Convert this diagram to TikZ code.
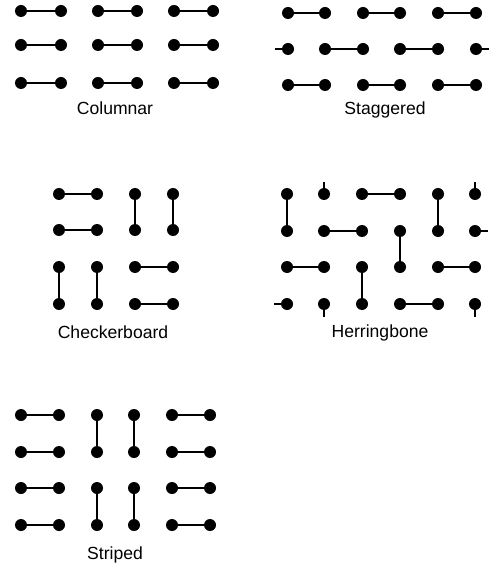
\documentclass[tikz,border=0pt]{standalone}
\usepackage{fontspec}
\setmainfont{Liberation Sans}
\usetikzlibrary{positioning}

\begin{document}
\begin{tikzpicture}[x=0.03cm,y=-0.03cm,
  pin/.style={circle,fill,inner sep=0pt,minimum size=0.36cm},
  bar/.style={line width=1.9pt},
  lbl/.style={font=\fontsize{15}{17}\selectfont}]
  \useasboundingbox (0,0) rectangle (490,571);
  % columnar
  \foreach \x [count=\c] in {21,61,98,137,174,213}
    \foreach \y [count=\r] in {11,45,83}
      \node[pin] (co-\r-\c) at (\x,\y) {};
  \foreach \r in {1,2,3}
    \foreach \a/\b in {1/2,3/4,5/6}
      \draw[bar] (co-\r-\a) -- (co-\r-\b);
  \node[lbl] (co-lbl) at (115,108) {Columnar};
  % staggered
  \foreach \x [count=\c] in {288,325,363,400,438,476}
    \foreach \y [count=\r] in {13,49,85}
      \node[pin] (st-\r-\c) at (\x,\y) {};
  \foreach \r in {1,3}
    \foreach \a/\b in {1/2,3/4,5/6}
      \draw[bar] (st-\r-\a) -- (st-\r-\b);
  \foreach \a/\b in {2/3,4/5}
    \draw[bar] (st-2-\a) -- (st-2-\b);
  \draw[bar] (st-2-1.center) -- ++(-13,0);
  \draw[bar] (st-2-6.center) -- ++(13,0);
  \node[lbl] (st-lbl) at (385,110) {Staggered};
  % checkerboard
  \foreach \x [count=\c] in {59,97,135,173}
    \foreach \y [count=\r] in {194,230,267,304}
      \node[pin] (ch-\r-\c) at (\x,\y) {};
  \draw[bar] (ch-1-1) -- (ch-1-2);
  \draw[bar] (ch-2-1) -- (ch-2-2);
  \draw[bar] (ch-1-3) -- (ch-2-3);
  \draw[bar] (ch-1-4) -- (ch-2-4);
  \draw[bar] (ch-3-1) -- (ch-4-1);
  \draw[bar] (ch-3-2) -- (ch-4-2);
  \draw[bar] (ch-3-3) -- (ch-3-4);
  \draw[bar] (ch-4-3) -- (ch-4-4);
  \node[lbl] (ch-lbl) at (113,332) {Checkerboard};
  % herringbone
  \foreach \x [count=\c] in {287,324,362,400,438,475}
    \foreach \y [count=\r] in {194,231,267,304}
      \node[pin] (hb-\r-\c) at (\x,\y) {};
  \foreach \p/\q in {1-3/1-4,2-2/2-3,3-1/3-2,3-5/3-6,4-4/4-5,
                     1-1/2-1,1-5/2-5,2-4/3-4,3-3/4-3}
    \draw[bar] (hb-\p) -- (hb-\q);
  \draw[bar] (hb-1-2.center) -- ++(0,-12);
  \draw[bar] (hb-1-6.center) -- ++(0,-12);
  \draw[bar] (hb-2-6.center) -- ++(13,0);
  \draw[bar] (hb-4-1.center) -- ++(-13,0);
  \draw[bar] (hb-4-2.center) -- ++(0,13);
  \draw[bar] (hb-4-6.center) -- ++(0,13);
  \node[lbl] (hb-lbl) at (380,333) {Herringbone};
  % striped
  \foreach \x [count=\c] in {21,59,97,134,172,210}
    \foreach \y [count=\r] in {415,452,488,525}
      \node[pin] (sp-\r-\c) at (\x,\y) {};
  \foreach \r in {1,2,3,4}
    \foreach \a/\b in {1/2,5/6}
      \draw[bar] (sp-\r-\a) -- (sp-\r-\b);
  \foreach \c in {3,4}{
    \draw[bar] (sp-1-\c) -- (sp-2-\c);
    \draw[bar] (sp-3-\c) -- (sp-4-\c);
  }
  \node[lbl] (sp-lbl) at (115,555) {Striped};
\end{tikzpicture}
\end{document}
